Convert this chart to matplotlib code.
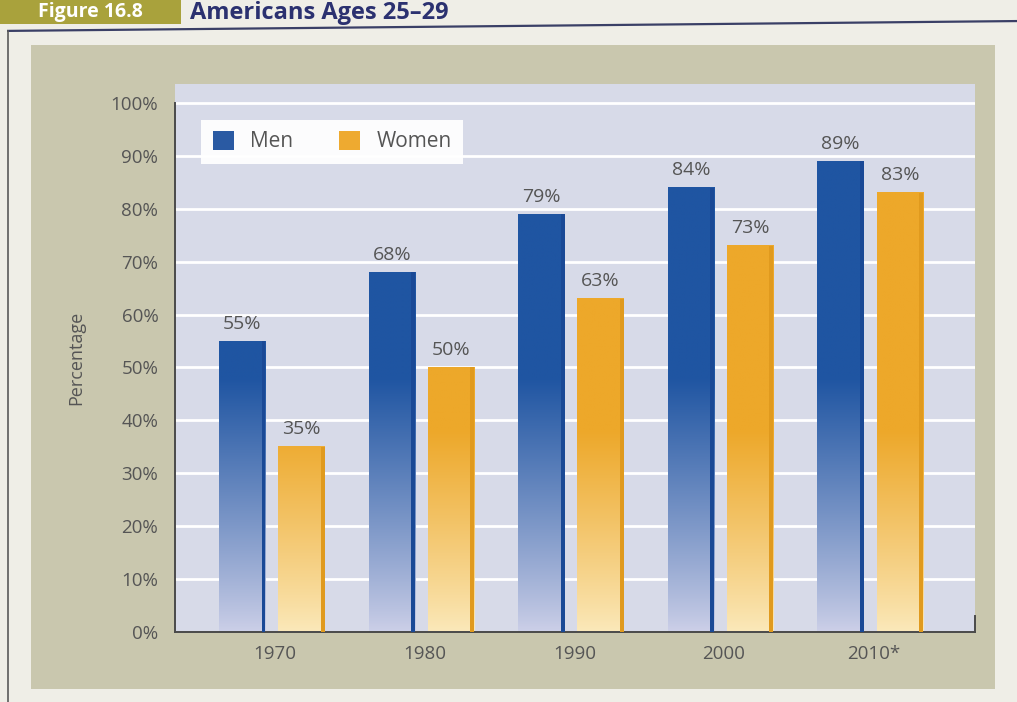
import numpy as np
import matplotlib
matplotlib.use("Agg")
import matplotlib.pyplot as plt
from matplotlib.patches import Rectangle, Patch
from matplotlib.lines import Line2D

plt.rcParams['font.family'] = ['Open Sans', 'DejaVu Sans']

# Data
years = ["1970", "1980", "1990", "2000", "2010*"]
men = [55, 68, 79, 84, 89]
women = [35, 50, 63, 73, 83]
yticks = [0, 10, 20, 30, 40, 50, 60, 70, 80, 90, 100]
ytick_labels = [f"{v}%" for v in yticks]

PAGE = "#efeee7"
PANEL = "#c9c7ae"
PLOT_BG = "#d7dae8"
TEXT = "#555555"

fig = plt.figure(figsize=(10.17, 7.02), dpi=100, facecolor=PAGE)

# Header strip
fig.patches.append(Rectangle((0.0, 0.966), 0.178, 0.034, transform=fig.transFigure,
                             facecolor="#a9a23c", edgecolor="none", zorder=-2))
fig.text(0.089, 0.983, "Figure 16.8", color="white", fontsize=14, fontweight="bold",
         ha="center", va="center")
fig.text(0.187, 0.982, "Americans Ages 25–29", color="#2b3170", fontsize=17,
         fontweight="bold", ha="left", va="center")
fig.add_artist(Line2D([0.008, 1.0], [0.956, 0.970], transform=fig.transFigure,
                      color="#3a3f66", lw=1.6))
fig.add_artist(Line2D([0.008, 0.008], [0.956, 0.0], transform=fig.transFigure,
                      color="#5a5a5a", lw=1.2))

# Khaki panel behind the chart
fig.patches.append(Rectangle((0.030, 0.018), 0.948, 0.918, transform=fig.transFigure,
                             facecolor=PANEL, edgecolor="none", zorder=-1))

ax = fig.add_axes([0.172, 0.0997, 0.787, 0.780])
ax.set_zorder(2)
ax.set_facecolor(PLOT_BG)
x = np.arange(len(years))

for v in yticks[1:]:
    ax.axhline(v, color="white", lw=2, zorder=1)

bw = 0.31
off_m, off_w = -0.22, 0.175
stripe = 0.026


def gradient_bar(xc, h, dark, pale, edge, fade_top):
    x0, x1 = xc - bw / 2, xc + bw / 2
    n = 300
    ys = np.linspace(h, 0, n)
    t = np.clip(ys / fade_top, 0, 1) ** 0.9
    dark = np.array(matplotlib.colors.to_rgb(dark))
    pale = np.array(matplotlib.colors.to_rgb(pale))
    col = pale[None, :] * (1 - t[:, None]) + dark[None, :] * t[:, None]
    img = np.repeat(col[:, None, :], 2, axis=1)
    ax.imshow(img, extent=[x0, x1, 0, h], aspect="auto", zorder=2,
              interpolation="bilinear")
    ax.add_patch(Rectangle((x1 - stripe, 0), stripe, h, facecolor=edge,
                           edgecolor="none", zorder=3))


for i in range(len(years)):
    gradient_bar(x[i] + off_m, men[i], "#1f55a2", "#cdd0e8", "#1a4996", 48)
    gradient_bar(x[i] + off_w, women[i], "#eda82a", "#fbe9bb", "#e09a1e", 38)
    ax.text(x[i] + off_m, men[i] + 1.6, f"{men[i]}%", ha="center", va="bottom",
            fontsize=14, color=TEXT, zorder=4)
    ax.text(x[i] + off_w, women[i] + 1.6, f"{women[i]}%", ha="center", va="bottom",
            fontsize=14, color=TEXT, zorder=4)

ax.set_xlim(-0.67, 4.68)
ax.set_ylim(0, 103.5)

ax.set_yticks(yticks)
ax.set_yticklabels(ytick_labels, fontsize=13.5, color=TEXT)
ax.set_xticks(x)
ax.set_xticklabels(years, fontsize=13.5, color=TEXT)
ax.tick_params(axis="both", length=0)
ax.tick_params(axis="y", pad=12)
ax.tick_params(axis="x", pad=9)
ax.set_ylabel("Percentage", fontsize=13, color=TEXT, labelpad=18)

for s in ["top", "right"]:
    ax.spines[s].set_visible(False)
for s in ["left", "bottom"]:
    ax.spines[s].set_color("#4a4a4a")
    ax.spines[s].set_linewidth(1.4)
ax.spines["left"].set_bounds(0, 100)
ax.plot([4.675, 4.675], [0, 3], color="#4a4a4a", lw=1.4, clip_on=False, zorder=5)

handles = [Patch(facecolor="#2a5aa3", edgecolor="none", label="Men"),
           Patch(facecolor="#eeaa30", edgecolor="none", label="Women")]
leg = ax.legend(handles=handles, loc="upper left", bbox_to_anchor=(0.02, 0.955),
                ncol=2, frameon=True, fancybox=False, fontsize=15,
                handlelength=1.0, handleheight=1.0, columnspacing=2.2,
                handletextpad=0.8, borderpad=0.55)
leg.get_frame().set_facecolor("white")
leg.get_frame().set_edgecolor("none")
leg.get_frame().set_alpha(0.95)
for t in leg.get_texts():
    t.set_color(TEXT)
leg.set_zorder(6)

fig.savefig("out.png", dpi=100, facecolor=PAGE)
